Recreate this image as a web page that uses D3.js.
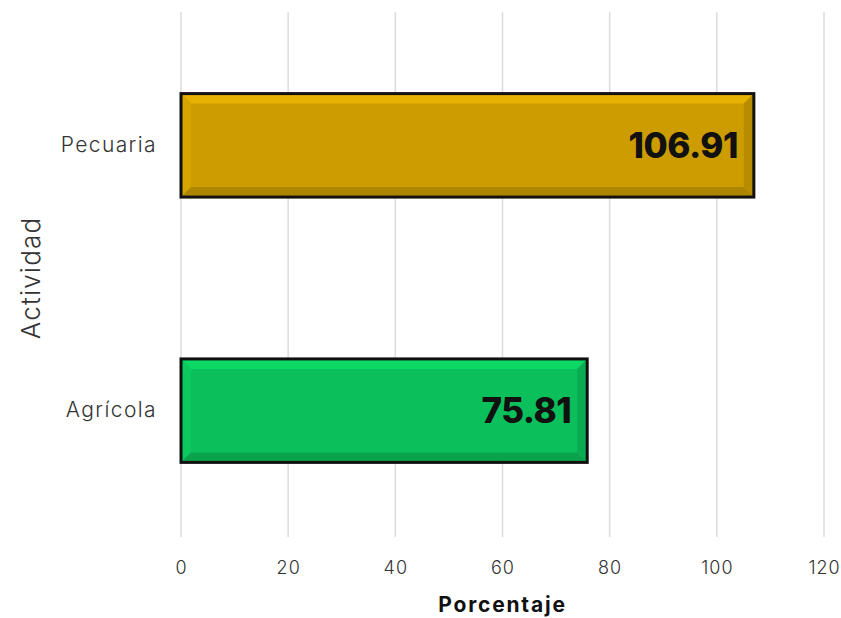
<!DOCTYPE html>
<html><head><meta charset="utf-8">
<script src="https://cdn.jsdelivr.net/npm/d3@7"></script>
<style>body{margin:0;background:#fff;} svg{display:block;font-family:"Inter","Noto Sans",sans-serif;}</style>
</head><body>
<script>
const categories = ["Pecuaria", "Agrícola"];
const values = [106.91, 75.81];
const colors = ["#CC9C00", "#0BBF5A"];
const xTicks = [0, 20, 40, 60, 80, 100, 120];
const xTitle = "Porcentaje";
const yTitle = "Actividad";

const W = 841, H = 618;
const svg = d3.select("body").append("svg").attr("width", W).attr("height", H);
const x = d3.scaleLinear().domain([0, 120]).range([181, 824]);
const y = d3.scaleBand().domain(categories).range([14, 542]).paddingInner(0.61).paddingOuter(0.3);

// grid
svg.append("g").selectAll("line").data(xTicks).join("line")
  .attr("x1", d => x(d)).attr("x2", d => x(d)).attr("y1", 12).attr("y2", 537)
  .attr("stroke", "#dcdcdc").attr("stroke-width", 1.5);

// x axis
const xa = svg.append("g").attr("transform", "translate(0,537)")
  .call(d3.axisBottom(x).tickValues(xTicks).tickSize(0).tickPadding(24));
xa.select(".domain").remove();
xa.selectAll("text").attr("font-size", 18).attr("fill", "#333").attr("font-weight", 300)
  .attr("letter-spacing", "1").attr("font-family", "Inter, 'Noto Sans', sans-serif");

// y axis labels
const ya = svg.append("g").attr("transform", "translate(181,0)")
  .call(d3.axisLeft(y).tickSize(0).tickPadding(24));
ya.select(".domain").remove();
ya.selectAll("text").attr("font-size", 21).attr("fill", "#333").attr("font-weight", 300)
  .attr("letter-spacing", "1.4").attr("font-family", "Inter, 'Noto Sans', sans-serif");

// bars with bevel
const bev = 10;
const data = categories.map((c, i) => ({c, v: values[i], col: colors[i]}));
const g = svg.append("g");
data.forEach(d => {
  const x0 = x(0), x1 = x(d.v), y0 = y(d.c), y1 = y(d.c) + y.bandwidth();
  const base = d3.color(d.col);
  const gg = g.append("g");
  gg.append("rect").attr("x", x0).attr("y", y0).attr("width", x1 - x0).attr("height", y1 - y0).attr("fill", d.col);
  gg.append("polygon").attr("points", [[x0,y0],[x1,y0],[x1-bev,y0+bev],[x0+bev,y0+bev]].join(" "))
    .attr("fill", base.brighter(0.35));
  gg.append("polygon").attr("points", [[x0,y0],[x0+bev,y0+bev],[x0+bev,y1-bev],[x0,y1]].join(" "))
    .attr("fill", base.brighter(0.15));
  gg.append("polygon").attr("points", [[x0,y1],[x0+bev,y1-bev],[x1-bev,y1-bev],[x1,y1]].join(" "))
    .attr("fill", base.darker(0.45));
  gg.append("polygon").attr("points", [[x1,y0],[x1,y1],[x1-bev,y1-bev],[x1-bev,y0+bev]].join(" "))
    .attr("fill", base.darker(0.3));
  gg.append("rect").attr("x", x0).attr("y", y0).attr("width", x1 - x0).attr("height", y1 - y0)
    .attr("fill", "none").attr("stroke", "#111").attr("stroke-width", 3);
  gg.append("text").attr("x", x1 - 16).attr("y", (y0 + y1) / 2).attr("dy", "0.36em")
    .attr("text-anchor", "end").attr("font-size", 35).attr("font-weight", 800)
    .attr("fill", "#111").attr("font-family", "Inter, 'Noto Sans', sans-serif")
    .attr("letter-spacing", "-0.5").text(d.v.toFixed(2));
});

// titles
svg.append("text").attr("x", (x(0) + x(120)) / 2).attr("y", 612).attr("text-anchor", "middle")
  .attr("font-size", 21).attr("font-weight", 700).attr("fill", "#111").attr("letter-spacing", "1.8").text(xTitle);
svg.append("text").attr("transform", "translate(40,278) rotate(-90)").attr("text-anchor", "middle")
  .attr("font-size", 26).attr("font-weight", 300).attr("letter-spacing", "1.2").attr("fill", "#333").text(yTitle);
</script>
</body></html>
